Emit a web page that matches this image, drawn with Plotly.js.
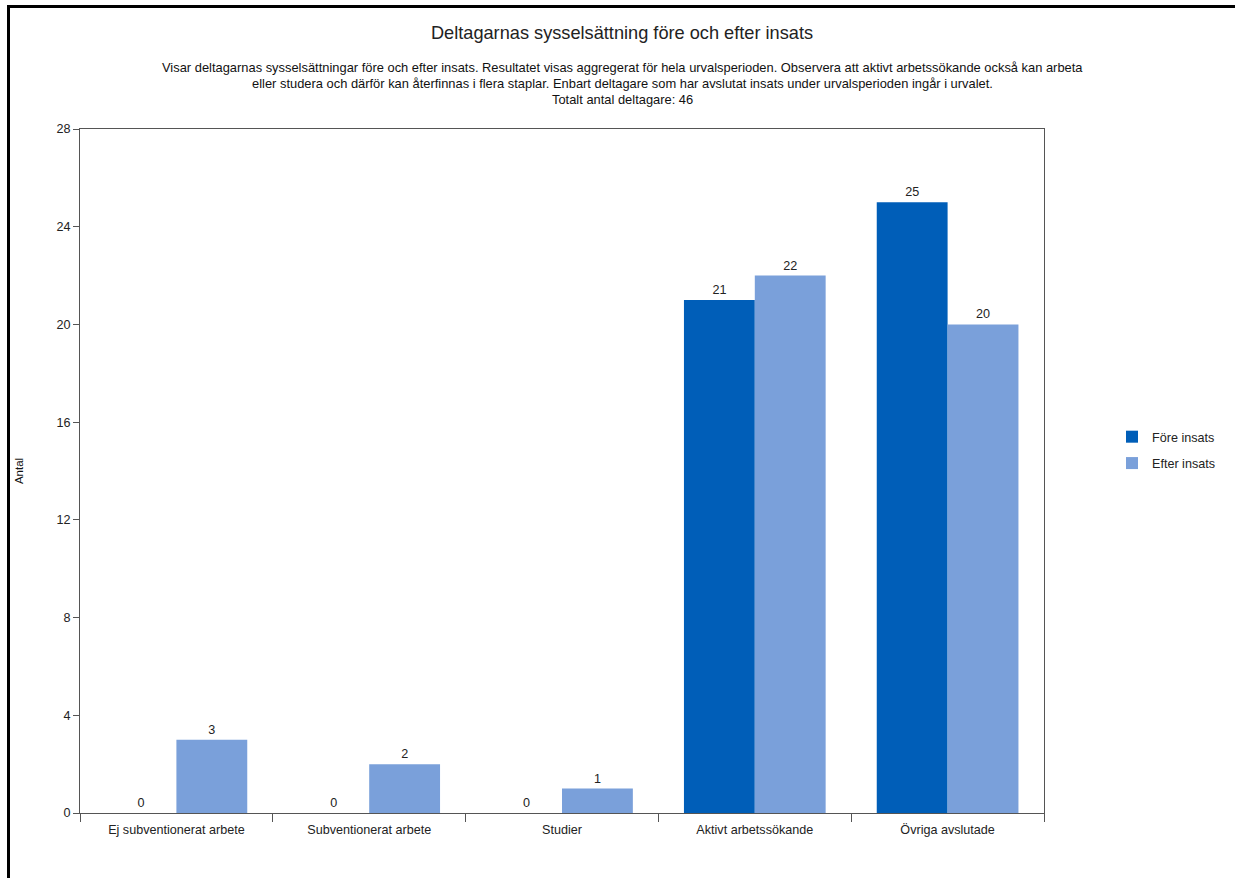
<!DOCTYPE html>
<html>
<head>
<meta charset="utf-8">
<script src="https://cdn.plot.ly/plotly-3.0.1.min.js"></script>
<style>
  html, body { margin: 0; padding: 0; background: #fff; }
  #chart { width: 1235px; height: 878px; position: relative; }
  #frame { position: absolute; left: 7px; top: 5px; right: 0; bottom: 0;
           border-top: 3px solid #000; border-left: 3px solid #000; pointer-events: none; }
</style>
</head>
<body>
<div id="chart"></div>
<div id="frame"></div>
<script>
const categories = ["Ej subventionerat arbete", "Subventionerat arbete", "Studier", "Aktivt arbetssökande", "Övriga avslutade"];
const foreValues = [0, 0, 0, 21, 25];
const efterValues = [3, 2, 1, 22, 20];
const seriesNames = ["Före insats", "Efter insats"];
const yTicks = [0, 4, 8, 12, 16, 20, 24, 28];
const titleText = "Deltagarnas sysselsättning före och efter insats";
const subtitleLines = [
  "Visar deltagarnas sysselsättningar före och efter insats. Resultatet visas aggregerat för hela urvalsperioden. Observera att aktivt arbetssökande också kan arbeta",
  "eller studera och därför kan återfinnas i flera staplar. Enbart deltagare som har avslutat insats under urvalsperioden ingår i urvalet.",
  "Totalt antal deltagare: 46"
];
const yTitle = "Antal";

const FONT = "Liberation Sans, Arial, sans-serif";
const textFont = { family: FONT, size: 12.6, color: "#222" };

const traces = [
  {
    type: "bar", name: seriesNames[0], x: categories, y: foreValues,
    marker: { color: "#005EB8" }, text: foreValues.map(String),
    textposition: "outside", textfont: textFont, cliponaxis: false,
    legendgroup: "a", hoverinfo: "x+y+name"
  },
  {
    type: "bar", name: seriesNames[1], x: categories, y: efterValues,
    marker: { color: "#7AA0DA" }, text: efterValues.map(String),
    textposition: "outside", textfont: textFont, cliponaxis: false,
    legendgroup: "b", hoverinfo: "x+y+name"
  }
];

const plotTop = 129, plotH = 684, plotLeft = 80, plotW = 964;
const lineY = [67, 83, 99];
const annotations = subtitleLines.map((t, i) => ({
  text: t, xref: "paper", yref: "paper",
  x: (622 - plotLeft) / plotW, y: 1 + (plotTop - lineY[i]) / plotH,
  xanchor: "center", yanchor: "middle", showarrow: false,
  font: { family: FONT, size: 12.9, color: "#111" }
}));

const layout = {
  width: 1235, height: 878,
  margin: { l: 80, r: 191, t: 129, b: 65 },
  paper_bgcolor: "#fff", plot_bgcolor: "#fff",
  font: { family: FONT, size: 12.6, color: "#222" },
  title: {
    text: titleText, xref: "container", yref: "container",
    x: 622 / 1235, y: 1 - 33 / 878, xanchor: "center", yanchor: "middle",
    font: { family: FONT, size: 18.2, color: "#222" }
  },
  barmode: "group", bargap: 0.265, bargroupgap: 0,
  xaxis: {
    type: "category", tickson: "boundaries", ticks: "outside", ticklen: 8,
    tickcolor: "#555", showline: true, linecolor: "#555", linewidth: 1, mirror: true,
    showgrid: false, zeroline: false, ticklabelstandoff: 5,
    tickfont: { family: FONT, size: 12.6, color: "#222" }
  },
  yaxis: {
    range: [0, 28], tickvals: yTicks, ticktext: yTicks.map(String),
    ticks: "outside", ticklen: 6, tickcolor: "#555",
    showline: true, linecolor: "#555", linewidth: 1, mirror: true,
    showgrid: false, zeroline: false,
    tickfont: { family: FONT, size: 12.6, color: "#222" },
    title: { text: yTitle, standoff: 30, font: { family: FONT, size: 11.5, color: "#111" } }
  },
  showlegend: true,
  legend: {
    x: (1112 - plotLeft) / plotW, y: 1 - (450 - plotTop) / plotH, xanchor: "left", yanchor: "middle",
    font: { family: FONT, size: 12.6, color: "#222" },
    itemwidth: 30, tracegroupgap: 7, bgcolor: "rgba(0,0,0,0)", traceorder: "grouped"
  },
  annotations: annotations
};

Plotly.newPlot("chart", traces, layout, { displayModeBar: false, staticPlot: true });
</script>
</body>
</html>
